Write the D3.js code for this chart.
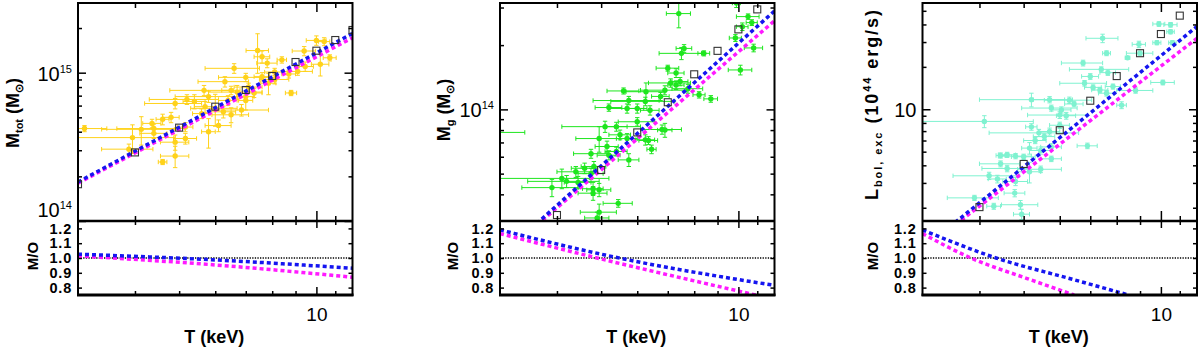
<!DOCTYPE html>
<html>
<head>
<meta charset="utf-8">
<script src="https://cdn.jsdelivr.net/npm/d3@7"></script>
<style>
  body { margin: 0; background: #fff; }
  svg text { font-family: "Liberation Sans", Arial, Helvetica, sans-serif; fill: #000; }
</style>
</head>
<body>
<div id="chart"></div>
<script>
// ---- data ----
// each cluster: [T (keV), dT, value, dValue]
// M_tot in units of 1e14 Msun
const mtotPts = [
  [7.43,0.42,14.1,4.2],[10.0,0.5,16.5,1.2],[10.4,0.3,16.2,1.0],[9.4,0.55,14.0,1.0],
  [8.4,0.2,12.2,0.6],[7.8,0.4,11.6,0.8],[7.6,0.3,12.8,1.2],[6.6,0.9,10.7,0.8],
  [10.2,0.45,11.4,1.9],[9.1,0.7,10.2,0.6],[10.7,0.35,12.6,0.6],[8.8,0.25,7.3,0.3],
  [7.85,0.3,8.5,1.4],[8.1,0.6,9.0,0.6],[7.0,0.9,9.3,0.6],[6.3,0.8,8.7,0.7],
  [7.1,0.5,8.0,0.5],[6.7,0.9,7.4,0.8],[5.67,0.9,7.6,0.6],[5.8,0.9,6.9,0.6],
  [5.2,0.9,6.6,0.5],[4.9,0.7,6.2,0.5],[5.4,0.3,6.4,0.7],[6.0,0.7,5.75,1.4],
  [6.5,0.6,5.2,0.6],[6.85,1.0,5.6,0.5],[6.25,0.4,5.45,0.5],[4.6,0.15,4.85,0.4],
  [4.8,0.2,5.0,0.4],[4.4,0.75,4.2,0.3],[4.13,0.75,4.15,0.9],[3.95,0.95,3.65,0.8],
  [4.4,0.3,3.9,0.3],[4.9,0.35,3.4,0.4],[5.16,0.3,3.6,0.3],[5.8,0.2,4.0,0.9],
  [6.1,0.4,4.4,0.4],[3.88,0.5,3.05,0.25],[4.9,0.35,2.74,0.45],[4.6,0.1,2.5,0.1],
  [3.1,0.37,4.2,0.2],[5.6,0.25,5.3,0.4],[6.4,0.3,6.5,0.5],[7.0,0.25,6.5,0.9],
  [7.3,0.3,7.3,0.5],[6.5,0.3,7.6,0.5],[9.45,0.4,11.0,0.8],[8.7,0.3,9.8,0.6],
  [8.1,0.4,10.1,0.6],[7.0,0.3,6.9,0.4],[4.36,0.2,4.55,0.3],[5.16,0.2,4.3,0.3],
  [5.7,0.3,5.9,0.5],[7.6,0.3,9.4,0.6]
];
// M_g in units of 1e13 Msun
const mgasPts = [
  [7.4,0.45,28.1,4.0],[9.9,0.2,31.5,1.5],[10.5,0.6,27.2,0.8],[10.7,0.3,25.5,0.8],
  [10.2,0.3,24.4,1.0],[9.85,0.3,21.6,0.8],[10.8,0.5,19.4,0.8],[7.5,0.8,18.3,1.2],
  [7.6,0.3,19.3,0.8],[8.4,0.25,18.3,0.5],[7.0,0.4,15.6,0.5],[10.1,0.6,15.3,0.8],
  [7.3,0.3,14.8,0.7],[7.1,0.75,13.3,0.6],[7.45,0.3,13.5,0.6],[7.3,0.3,13.0,0.6],
  [6.9,0.8,12.3,0.6],[6.27,0.6,12.1,1.2],[5.6,0.45,12.2,0.4],[7.75,0.6,12.5,0.6],
  [8.2,0.25,11.7,0.4],[8.7,0.3,11.2,0.4],[6.75,0.3,11.5,0.5],[5.75,0.95,11.0,0.5],
  [6.25,1.0,10.9,0.5],[5.2,0.35,10.2,0.4],[5.7,0.5,10.1,0.5],[6.0,0.3,10.1,0.5],
  [6.4,0.3,9.9,0.5],[5.1,1.0,8.3,0.5],[4.95,0.55,7.3,1.0],[5.4,0.3,8.3,0.4],
  [6.0,0.55,8.75,0.4],[6.8,0.7,8.05,0.4],[6.9,0.25,8.0,0.6],[5.5,0.3,7.6,0.4],
  [5.7,0.3,7.3,0.4],[6.25,0.3,7.2,0.4],[6.35,0.3,7.15,0.3],[6.45,0.15,6.5,0.3],
  [4.75,0.4,6.2,0.3],[5.2,0.3,6.1,0.3],[5.4,0.3,6.35,0.3],[5.75,0.3,5.8,0.4],
  [5.15,0.3,6.7,0.4],[4.4,0.4,5.1,0.3],[4.6,0.3,5.3,0.3],[4.82,0.3,5.4,0.3],
  [4.1,1.1,4.75,0.5],[3.9,0.55,4.3,0.4],[4.2,0.75,4.6,0.3],[4.45,0.3,4.55,0.3],
  [4.8,0.25,4.25,0.3],[4.8,0.35,4.05,0.3],[4.95,0.3,4.2,0.3],[5.45,0.4,3.63,0.15],
  [4.95,0.45,3.3,0.3],[4.9,0.3,3.1,0.2],[2.95,0.45,7.8,0.3],[4.75,0.3,5.0,0.3]
];
// L_bol,exc in units of 1e44 erg/s
const lbolPts = [
  [7.45,0.6,31.9,2.2],[9.9,0.3,40.3,1.5],[10.5,0.35,39.8,1.5],[10.5,0.2,35.5,1.2],
  [9.8,0.2,29.7,1.0],[10.6,0.2,29.7,1.0],[8.95,0.3,28.9,1.5],[7.6,0.15,25.0,1.0],
  [8.45,0.1,23.2,0.5],[9.0,0.6,25.0,0.8],[6.75,0.7,21.3,1.0],[7.4,1.1,19.2,0.8],
  [7.0,0.3,17.1,0.8],[7.65,0.3,18.2,0.8],[10.1,0.6,15.5,0.6],[8.8,0.8,13.6,0.6],
  [6.8,0.8,15.3,0.7],[7.1,0.3,14.3,0.6],[7.35,0.3,13.7,0.6],[7.6,0.3,13.0,0.6],
  [7.85,0.3,14.5,0.6],[8.2,0.2,10.7,0.6],[5.2,1.2,11.7,1.3],[5.7,0.45,11.7,0.6],
  [6.3,0.75,11.6,0.6],[6.45,0.3,10.9,0.5],[5.75,0.8,10.2,0.5],[6.05,0.3,9.9,0.5],
  [6.0,0.9,9.1,0.5],[6.2,0.3,9.0,0.5],[4.1,1.15,8.2,0.8],[5.2,0.15,7.5,0.4],
  [6.0,0.3,7.7,0.4],[5.4,1.2,6.8,0.4],[5.7,0.3,6.95,0.4],[5.55,0.3,6.4,0.3],
  [5.3,0.3,6.0,0.3],[6.9,0.35,5.5,0.25],[5.15,0.2,5.3,0.5],[5.75,0.3,5.4,0.3],
  [5.45,0.3,5.1,0.3],[4.45,0.1,4.7,0.2],[4.6,0.2,4.75,0.2],[4.8,0.4,4.65,0.2],
  [5.0,0.3,4.6,0.2],[5.75,0.3,4.45,0.2],[4.45,0.45,4.1,0.2],[4.6,0.55,3.8,0.2],
  [5.45,0.6,3.75,0.2],[5.15,0.3,3.6,0.6],[4.2,0.7,3.37,0.2],[4.8,0.3,3.07,0.2],
  [4.3,0.15,2.05,0.1],[3.9,0.5,2.35,0.1],[4.78,0.25,2.54,0.15],[4.92,0.45,2.1,0.15],
  [4.95,0.2,1.8,0.15],[4.38,0.2,3.2,0.2]
];

// binned values (open squares)
const mtotBins = [[3,1.77],[4,2.9],[5,4.26],[6,5.9],[7,7.64],[8,9.5],[9,11.8],[10,14.07],[11,16.6],[12,19.4]];
const mgasBins = [[4,3.2],[5,5.2],[6,7.8],[7,10.8],[8,14.6],[9,18.8],[10,23.7],[11,29.4]];
const lbolBins = [[4,2.02],[5,4.09],[6,7.1],[7,11.5],[8,17.2],[9,25.0],[10,34.2],[11,46.2]];

// model relations (blue / magenta), upper panels
const mtotBlue = [[3,1.83],[12,18.4]];
const mtotMag  = [[3,1.80],[12,17.2]];
const mgasBlue = [[3,2.05],[12,28.9]];
const mgasMag  = [[3,2.04],[12,26.0]];
const lbolBlue = [[3,1.02],[12,38.7]];
const lbolMag  = [[3,1.0],[12,31.9]];

// M/O ratios, lower panels
const mtotRatioBlue = [[3,1.026],[6,0.987],[12,0.931]];
const mtotRatioMag  = [[3,1.014],[6,0.953],[12,0.870]];
const mgasRatioBlue = [[3,1.19],[5.1,1.02],[12,0.815]];
const mgasRatioMag  = [[3,1.165],[4.9,1.0],[10.9,0.75],[12,0.72]];
const lbolRatioBlue = [[3,1.19],[4.35,1.0],[6.4,0.856],[8.5,0.75]];
const lbolRatioMag  = [[3,1.165],[3.83,1.0],[5.07,0.863],[6.45,0.75]];

// axes
const tempDomain = [3, 12];
const tempMinor = [4, 5, 6, 7, 8, 9, 11];
const tempMajor = [10];
const ratioDomain = [0.75, 1.25];
const ratioTicks = [0.8, 0.9, 1.0, 1.1, 1.2];

const mtotTitle = [["M","n"],["tot","sub"],[" (M","n"],["\u2299","sub"],[")","n"]];
const mgasTitle = [["M","n"],["g","sub"],[" (M","n"],["\u2299","sub"],[")","n"]];
const lbolTitle = [["L","n"],["bol, exc","sub"],["  (10","n"],["44","sup"],[" erg/s)","n"]];

// ---- layout ----
const width = 1200, height = 351;
const topY = 3, midY = 221, botY = 295, panelW = 274.5;

const svg = d3.select("#chart").append("svg")
  .attr("width", width)
  .attr("height", height);

const panels = [
  { id: 0, left: 78, pts: mtotPts, bins: mtotBins, blue: mtotBlue, mag: mtotMag,
    rBlue: mtotRatioBlue, rMag: mtotRatioMag, color: "#ffd21a",
    yDomain: [1, 29.5], yMajor: [[1,"10","14"],[10,"10","15"]], yMinor: [2,3,4,5,6,7,8,9,20],
    title: mtotTitle, titleX: 19, titleY: 113, titleLen: null, moX: 38 },
  { id: 1, left: 500, pts: mgasPts, bins: mgasBins, blue: mgasBlue, mag: mgasMag,
    rBlue: mgasRatioBlue, rMag: mgasRatioMag, color: "#1ee61e",
    yDomain: [3, 31.5], yMajor: [[10,"10","14"]], yMinor: [4,5,6,7,8,9,20,30],
    title: mgasTitle, titleX: 450, titleY: 110, titleLen: null, moX: 458 },
  { id: 2, left: 922.5, pts: lbolPts, bins: lbolBins, blue: lbolBlue, mag: lbolMag,
    rBlue: lbolRatioBlue, rMag: lbolRatioMag, color: "#7ff2d0",
    yDomain: [1.61, 56.8], yMajor: [[10,"10",null]], yMinor: [2,3,4,5,6,7,8,9,20,30,40,50],
    title: lbolTitle, titleX: 878, titleY: 105, titleLen: 190, moX: 878 }
];

panels.forEach(drawPanel);

function drawPanel(p) {
  const x0 = p.left, x1 = p.left + panelW;
  const x = d3.scaleLog().domain(tempDomain).range([x0, x1]);
  const y = d3.scaleLog().domain(p.yDomain).range([midY, topY]);
  const r = d3.scaleLinear().domain(ratioDomain).range([botY, midY]);

  const defs = svg.append("defs");
  defs.append("clipPath").attr("id", "clipTop" + p.id)
    .append("rect").attr("x", x0).attr("y", topY).attr("width", panelW).attr("height", midY - topY);
  defs.append("clipPath").attr("id", "clipBot" + p.id)
    .append("rect").attr("x", x0).attr("y", midY).attr("width", panelW).attr("height", botY - midY);

  // upper panel: clusters with error bars
  const up = svg.append("g").attr("clip-path", `url(#clipTop${p.id})`);
  const cap = 2.2;
  const bars = up.append("g")
    .attr("stroke", p.color)
    .attr("stroke-width", 1)
    .attr("fill", "none");
  p.pts.forEach(d => {
    const cx = x(d[0]), cy = y(d[2]);
    const xl = x(d[0] - d[1]), xr = x(d[0] + d[1]);
    const yl = y(Math.max(d[2] - d[3], 0.01)), yh = y(d[2] + d[3]);
    bars.append("line").attr("x1", xl).attr("x2", xr).attr("y1", cy).attr("y2", cy);
    bars.append("line").attr("x1", xl).attr("x2", xl).attr("y1", cy - cap).attr("y2", cy + cap);
    bars.append("line").attr("x1", xr).attr("x2", xr).attr("y1", cy - cap).attr("y2", cy + cap);
    bars.append("line").attr("x1", cx).attr("x2", cx).attr("y1", yl).attr("y2", yh);
    bars.append("line").attr("x1", cx - cap).attr("x2", cx + cap).attr("y1", yl).attr("y2", yl);
    bars.append("line").attr("x1", cx - cap).attr("x2", cx + cap).attr("y1", yh).attr("y2", yh);
  });
  up.selectAll("circle.pt")
    .data(p.pts)
    .join("circle")
      .attr("class", "pt")
      .attr("cx", d => x(d[0]))
      .attr("cy", d => y(d[2]))
      .attr("r", 2.7)
      .attr("fill", p.color);

  // model lines
  const line = d3.line().x(d => x(d[0])).y(d => y(d[1]));
  up.append("path").datum(p.mag).attr("d", line)
    .attr("fill", "none").attr("stroke", "#ff1aff").attr("stroke-width", 3.5).attr("stroke-dasharray", "4,3");
  up.append("path").datum(p.blue).attr("d", line)
    .attr("fill", "none").attr("stroke", "#1515f0").attr("stroke-width", 3.5).attr("stroke-dasharray", "4,3");

  // binned squares
  up.selectAll("rect.bin")
    .data(p.bins)
    .join("rect")
      .attr("class", "bin")
      .attr("x", d => x(d[0]) - 3.5)
      .attr("y", d => y(d[1]) - 3.5)
      .attr("width", 7)
      .attr("height", 7)
      .attr("fill", "none")
      .attr("stroke", "#333")
      .attr("stroke-width", 1.1);

  // lower panel: ratios
  const lo = svg.append("g").attr("clip-path", `url(#clipBot${p.id})`);
  lo.append("line")
    .attr("x1", x0).attr("x2", x1).attr("y1", r(1)).attr("y2", r(1))
    .attr("stroke", "#000").attr("stroke-width", 1.3).attr("stroke-dasharray", "1.3,1.3");
  const rline = d3.line().x(d => x(d[0])).y(d => r(d[1])).curve(d3.curveMonotoneX);
  lo.append("path").datum(p.rMag).attr("d", rline)
    .attr("fill", "none").attr("stroke", "#ff1aff").attr("stroke-width", 3.5).attr("stroke-dasharray", "4,3");
  lo.append("path").datum(p.rBlue).attr("d", rline)
    .attr("fill", "none").attr("stroke", "#1515f0").attr("stroke-width", 3.5).attr("stroke-dasharray", "4,3");

  // ticks (inward, IDL style)
  const tickAxis = (axis, tx, ty) => {
    const g = svg.append("g").attr("transform", `translate(${tx},${ty})`).call(axis);
    g.select(".domain").remove();
    g.selectAll(".tick line").attr("stroke", "#000").attr("stroke-width", 1.5);
    return g;
  };
  const noLab = () => "";
  // top panel x ticks
  tickAxis(d3.axisTop(x).tickValues(tempMinor).tickSize(-5).tickFormat(noLab), 0, topY);
  tickAxis(d3.axisTop(x).tickValues(tempMajor).tickSize(-9).tickFormat(noLab), 0, topY);
  tickAxis(d3.axisBottom(x).tickValues(tempMinor).tickSize(-5).tickFormat(noLab), 0, midY);
  tickAxis(d3.axisBottom(x).tickValues(tempMajor).tickSize(-10).tickFormat(noLab), 0, midY);
  // top panel y ticks
  const yMajVals = p.yMajor.map(d => d[0]);
  tickAxis(d3.axisLeft(y).tickValues(p.yMinor).tickSize(-4).tickFormat(noLab), x0, 0);
  tickAxis(d3.axisLeft(y).tickValues(yMajVals).tickSize(-8).tickFormat(noLab), x0, 0);
  tickAxis(d3.axisRight(y).tickValues(p.yMinor).tickSize(-4).tickFormat(noLab), x1, 0);
  tickAxis(d3.axisRight(y).tickValues(yMajVals).tickSize(-8).tickFormat(noLab), x1, 0);
  // bottom panel ticks
  tickAxis(d3.axisTop(x).tickValues(tempMinor).tickSize(-4).tickFormat(noLab), 0, midY);
  tickAxis(d3.axisTop(x).tickValues(tempMajor).tickSize(-7).tickFormat(noLab), 0, midY);
  tickAxis(d3.axisBottom(x).tickValues(tempMinor).tickSize(-4).tickFormat(noLab), 0, botY);
  const xlab = tickAxis(d3.axisBottom(x).tickValues(tempMajor).tickSize(-8).tickPadding(13)
    .tickFormat(d3.format("d")), 0, botY);
  xlab.selectAll("text").attr("font-size", 19).attr("font-family", null);
  const rlab = tickAxis(d3.axisLeft(r).tickValues(ratioTicks).tickSize(-4).tickPadding(6)
    .tickFormat(d3.format(".1f")), x0, 0);
  rlab.selectAll("text").attr("font-size", 14.5).attr("font-weight", "bold")
    .attr("letter-spacing", 0.8).attr("font-family", null);
  tickAxis(d3.axisRight(r).tickValues(ratioTicks).tickSize(-4).tickFormat(noLab), x1, 0);

  // frames
  svg.append("rect")
    .attr("x", x0).attr("y", topY).attr("width", panelW).attr("height", botY - topY)
    .attr("fill", "none").attr("stroke", "#000").attr("stroke-width", 2);
  svg.append("line")
    .attr("x1", x0).attr("x2", x1).attr("y1", midY).attr("y2", midY)
    .attr("stroke", "#000").attr("stroke-width", 2.5);
  svg.append("line")
    .attr("x1", x0 - 1).attr("x2", x1 + 1).attr("y1", botY).attr("y2", botY)
    .attr("stroke", "#000").attr("stroke-width", 3);

  // y labels of the log axis (10 with exponent)
  p.yMajor.forEach(([v, base, exp]) => {
    const t = svg.append("text")
      .attr("x", x0 - 6)
      .attr("y", Math.min(y(v) + 8, midY - 4.5))
      .attr("text-anchor", "end")
      .attr("font-size", 20);
    t.append("tspan").text(base);
    if (exp) t.append("tspan").attr("font-size", 11).attr("dy", -8).text(exp);
  });

  // axis titles
  const title = svg.append("text")
    .attr("transform", `translate(${p.titleX},${p.titleY}) rotate(-90)`)
    .attr("text-anchor", "middle")
    .attr("font-size", 18)
    .attr("font-weight", "bold");
  if (p.titleLen) title.attr("textLength", p.titleLen).attr("lengthAdjust", "spacing");
  let shift = 0;
  p.title.forEach(([s, kind]) => {
    const target = kind === "sub" ? 4 : kind === "sup" ? -7 : 0;
    title.append("tspan")
      .attr("dy", target - shift)
      .attr("font-size", kind === "n" ? 18 : 11)
      .text(s);
    shift = target;
  });

  svg.append("text")
    .attr("transform", `translate(${p.moX},${(midY + botY) / 2 - 2}) rotate(-90)`)
    .attr("text-anchor", "middle")
    .attr("font-size", 15)
    .attr("font-weight", "bold")
    .text("M/O");

  svg.append("text")
    .attr("x", (x0 + x1) / 2 - 1)
    .attr("y", 343)
    .attr("text-anchor", "middle")
    .attr("font-size", 18)
    .attr("font-weight", "bold")
    .text("T  (keV)");
}
</script>
</body>
</html>
